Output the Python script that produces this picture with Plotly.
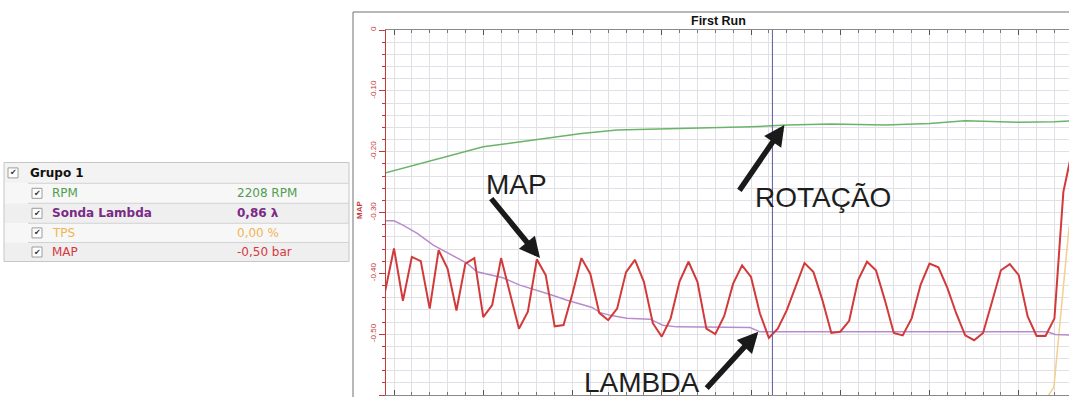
import plotly.graph_objects as go

W, H = 1069, 397

# ---------------- data ----------------
# MAP channel, sampled every 0.05 s starting at t = -0.05 s
map_t0 = -0.05
map_dt = 0.05
map_bar = [-0.430, -0.359, -0.445, -0.373, -0.380, -0.458, -0.362, -0.392, -0.461, -0.384,
           -0.375, -0.472, -0.452, -0.375, -0.433, -0.491, -0.463, -0.377, -0.403, -0.487,
           -0.485, -0.433, -0.375, -0.401, -0.465, -0.477, -0.458, -0.398, -0.378, -0.414,
           -0.482, -0.504, -0.474, -0.413, -0.381, -0.414, -0.491, -0.500, -0.470, -0.417,
           -0.387, -0.406, -0.466, -0.506, -0.491, -0.461, -0.422, -0.383, -0.398, -0.444,
           -0.498, -0.496, -0.478, -0.411, -0.381, -0.395, -0.444, -0.498, -0.502, -0.474,
           -0.419, -0.384, -0.390, -0.424, -0.466, -0.502, -0.510, -0.498, -0.447, -0.395,
           -0.385, -0.403, -0.471, -0.503, -0.503, -0.474, -0.266, -0.197]
map_time = [round(map_t0 + k * map_dt, 3) for k in range(len(map_bar))]

# RPM trace (position as drawn on the MAP scale)
rpm_time = [-0.05, 0.15, 0.35, 0.5, 0.7, 0.9, 1.05, 1.25, 1.45, 1.65, 1.8, 2.0, 2.2,
            2.45, 2.75, 3.0, 3.2, 3.4, 3.5, 3.7, 3.8]
rpm_trace = [-0.235, -0.219, -0.203, -0.192, -0.184, -0.1765, -0.170, -0.1645, -0.1633,
             -0.162, -0.160, -0.159, -0.1563, -0.1546, -0.1563, -0.1535, -0.1492, -0.1508,
             -0.1516, -0.1508, -0.1492]

# Sonda Lambda trace (position as drawn on the MAP scale)
lambda_time = [-0.05, 0.0, 0.05, 0.13, 0.22, 0.31, 0.41, 0.465, 0.54, 0.61, 0.705, 0.8,
               0.875, 0.97, 1.06, 1.11, 1.155, 1.225, 1.305, 1.435, 1.505, 1.585, 1.995,
               2.05, 3.66, 3.705, 3.8]
lambda_trace = [-0.3137, -0.3137, -0.3207, -0.3344, -0.3536, -0.3673, -0.3837, -0.3975,
                -0.403, -0.4074, -0.4194, -0.4276, -0.4347, -0.4441, -0.4523, -0.4561,
                -0.4646, -0.4699, -0.4737, -0.4753, -0.4852, -0.488, -0.489, -0.4962,
                -0.4962, -0.5005, -0.5016]

# TPS trace (position as drawn on the MAP scale)
tps_time = [-0.05, 3.64, 3.664, 3.697, 3.782]
tps_trace = [-0.62, -0.62, -0.602, -0.587, -0.323]

cursor_time = 2.12

ytick_vals = [0, -0.1, -0.2, -0.3, -0.4, -0.5, -0.6]
ytick_text = ["0", "-0.10", "-0.20", "-0.30", "-0.40", "-0.50", "-0.60"]

chart_title = "First Run"
axis_title = "MAP"

group_name = "Grupo 1"
channels = ["RPM", "Sonda Lambda", "TPS", "MAP"]
readouts = ["2208 RPM", "0,86 \u03bb", "0,00 %", "-0,50 bar"]

callouts = ["MAP", "ROTA\u00c7\u00c3O", "LAMBDA"]

# ---------------- styles ----------------
C_MAP = "#d23a3a"
C_RPM = "#6ab46a"
C_LAMBDA = "#b88ccc"
C_TPS = "#f3cf90"
C_AXIS = "#c23b3b"
GRID = "#e0e0e6"
channel_colors = ["#4f9e4f", "#7b2a86", "#f0b553", "#d6383f"]
channel_bold = [False, True, False, False]


def X(px):
    return px / W


def Y(py):
    return 1 - py / H


fig = go.Figure()
fig.add_trace(go.Scatter(x=tps_time, y=tps_trace, mode="lines",
                         line=dict(color=C_TPS, width=1.5), hoverinfo="skip"))
fig.add_trace(go.Scatter(x=lambda_time, y=lambda_trace, mode="lines",
                         line=dict(color=C_LAMBDA, width=1.5), hoverinfo="skip"))
fig.add_trace(go.Scatter(x=rpm_time, y=rpm_trace, mode="lines",
                         line=dict(color=C_RPM, width=1.5), hoverinfo="skip"))
fig.add_trace(go.Scatter(x=map_time, y=map_bar, mode="lines",
                         line=dict(color=C_MAP, width=2), hoverinfo="skip"))

x_lo = (386 - 394) / 178.5
x_hi = (1069 - 394) / 178.5

shapes = []
annotations = []

# chart frame
shapes.append(dict(type="line", xref="paper", yref="paper", x0=X(353), x1=X(1069),
                   y0=Y(12), y1=Y(12), line=dict(color="#707070", width=1)))
shapes.append(dict(type="line", xref="paper", yref="paper", x0=X(353), x1=X(353),
                   y0=Y(12), y1=Y(397), line=dict(color="#707070", width=1)))

# cursor
shapes.append(dict(type="line", xref="x", yref="paper", x0=cursor_time, x1=cursor_time,
                   y0=Y(395), y1=Y(30), line=dict(color="#5a5aa2", width=1)))

# ---------------- channel table ----------------
row_edges = [162.5, 183.3, 203.3, 223.3, 242.5, 261.5]
row_fills = ["#f3f3f3", "#f7f7f7", "#efefef", "#f7f7f7", "#efefef"]
for k in range(5):
    shapes.append(dict(type="rect", xref="paper", yref="paper", x0=X(4), x1=X(349),
                       y0=Y(row_edges[k + 1]), y1=Y(row_edges[k]),
                       fillcolor=row_fills[k], line=dict(width=0), layer="below"))
shapes.append(dict(type="rect", xref="paper", yref="paper", x0=X(4), x1=X(349),
                   y0=Y(261.5), y1=Y(162.5), line=dict(color="#c6c6c6", width=1)))
for k in range(1, 5):
    shapes.append(dict(type="line", xref="paper", yref="paper", x0=X(28), x1=X(349),
                       y0=Y(row_edges[k]), y1=Y(row_edges[k]),
                       line=dict(color="#d2d2d2", width=1)))


def checkbox(cx, cy):
    shapes.append(dict(type="rect", xref="paper", yref="paper",
                       x0=X(cx - 5), x1=X(cx + 5), y0=Y(cy + 5), y1=Y(cy - 5),
                       fillcolor="#ffffff", line=dict(color="#9c9c9c", width=1)))
    annotations.append(dict(x=X(cx), y=Y(cy), xref="paper", yref="paper", text="\u2714",
                            showarrow=False, xanchor="center", yanchor="middle",
                            font=dict(family="DejaVu Sans", size=8, color="#333333")))


row_centers = [(row_edges[k] + row_edges[k + 1]) / 2 for k in range(5)]
checkbox(13, row_centers[0])
annotations.append(dict(x=X(28), y=Y(row_centers[0]), xref="paper", yref="paper",
                        text="<b>" + group_name + "</b>", showarrow=False,
                        xanchor="left", yanchor="middle",
                        font=dict(family="DejaVu Sans", size=12, color="#111111")))
for k, (name, val) in enumerate(zip(channels, readouts)):
    cy = row_centers[k + 1]
    checkbox(37, cy)
    n = "<b>" + name + "</b>" if channel_bold[k] else name
    v = "<b>" + val + "</b>" if channel_bold[k] else val
    annotations.append(dict(x=X(50), y=Y(cy), xref="paper", yref="paper", text=n,
                            showarrow=False, xanchor="left", yanchor="middle",
                            font=dict(family="DejaVu Sans", size=12, color=channel_colors[k])))
    annotations.append(dict(x=X(235), y=Y(cy), xref="paper", yref="paper", text=v,
                            showarrow=False, xanchor="left", yanchor="middle",
                            font=dict(family="DejaVu Sans", size=12, color=channel_colors[k])))

# ---------------- titles ----------------
annotations.append(dict(x=X(718), y=Y(21), xref="paper", yref="paper",
                        text="<b>" + chart_title + "</b>", showarrow=False,
                        xanchor="center", yanchor="middle",
                        font=dict(family="Liberation Sans", size=12.5, color="#111111")))
annotations.append(dict(x=X(359), y=Y(210), xref="paper", yref="paper",
                        text="<b>" + axis_title + "</b>", showarrow=False, textangle=-90,
                        xanchor="center", yanchor="middle",
                        font=dict(family="Liberation Sans", size=8, color=C_AXIS)))

# ---------------- callouts ----------------
callout_pos = [(516.5, 184), (822.5, 197), (641, 382)]
for txt, (cx, cy) in zip(callouts, callout_pos):
    annotations.append(dict(x=X(cx), y=Y(cy), xref="paper", yref="paper", text=txt,
                            showarrow=False, xanchor="center", yanchor="middle",
                            font=dict(family="Liberation Sans", size=28, color="#1e1e1e")))

arrow_tips = [(0.818, -0.375, -50, -61), (2.187, -0.156, -46, 67), (2.041, -0.496, -53, 58)]
for tx, ty, ax, ay in arrow_tips:
    annotations.append(dict(x=tx, y=ty, xref="x", yref="y", ax=ax, ay=ay, text="",
                            showarrow=True, arrowhead=2, arrowsize=0.75, arrowwidth=5.5,
                            arrowcolor="#1a1a1a", standoff=0, startstandoff=0))

fig.update_layout(
    width=W, height=H,
    margin=dict(l=0, r=0, t=0, b=0, autoexpand=False),
    paper_bgcolor="#ffffff", plot_bgcolor="#ffffff",
    showlegend=False,
    shapes=shapes,
    annotations=annotations,
    xaxis=dict(domain=[X(386), 1], range=[x_lo, x_hi], showticklabels=False,
               tick0=0, dtick=0.5, ticks="inside", ticklen=5, tickcolor="#555555",
               showline=True, linecolor="#8a8a8a", linewidth=1, mirror="ticks",
               showgrid=True, gridcolor=GRID, gridwidth=1, zeroline=False,
               minor=dict(tick0=0, dtick=0.1, showgrid=True, gridcolor=GRID,
                          ticks="inside", ticklen=3, tickcolor="#777777")),
    yaxis=dict(domain=[Y(395), Y(30)], range=[-0.6, 0], tickvals=ytick_vals,
               ticktext=ytick_text, tickangle=-90,
               tickfont=dict(family="Liberation Sans", size=8, color=C_AXIS),
               ticks="outside", ticklen=6, tickcolor=C_AXIS,
               showline=True, linecolor=C_AXIS, linewidth=1.2,
               showgrid=True, gridcolor=GRID, gridwidth=1, zeroline=False,
               minor=dict(tick0=0, dtick=0.02, showgrid=True, gridcolor=GRID,
                          ticks="outside", ticklen=3, tickcolor=C_AXIS)),
)

fig.write_html("out.html", config={"displayModeBar": False},
               post_script="document.body.style.margin='0';document.body.style.overflow='hidden';")
